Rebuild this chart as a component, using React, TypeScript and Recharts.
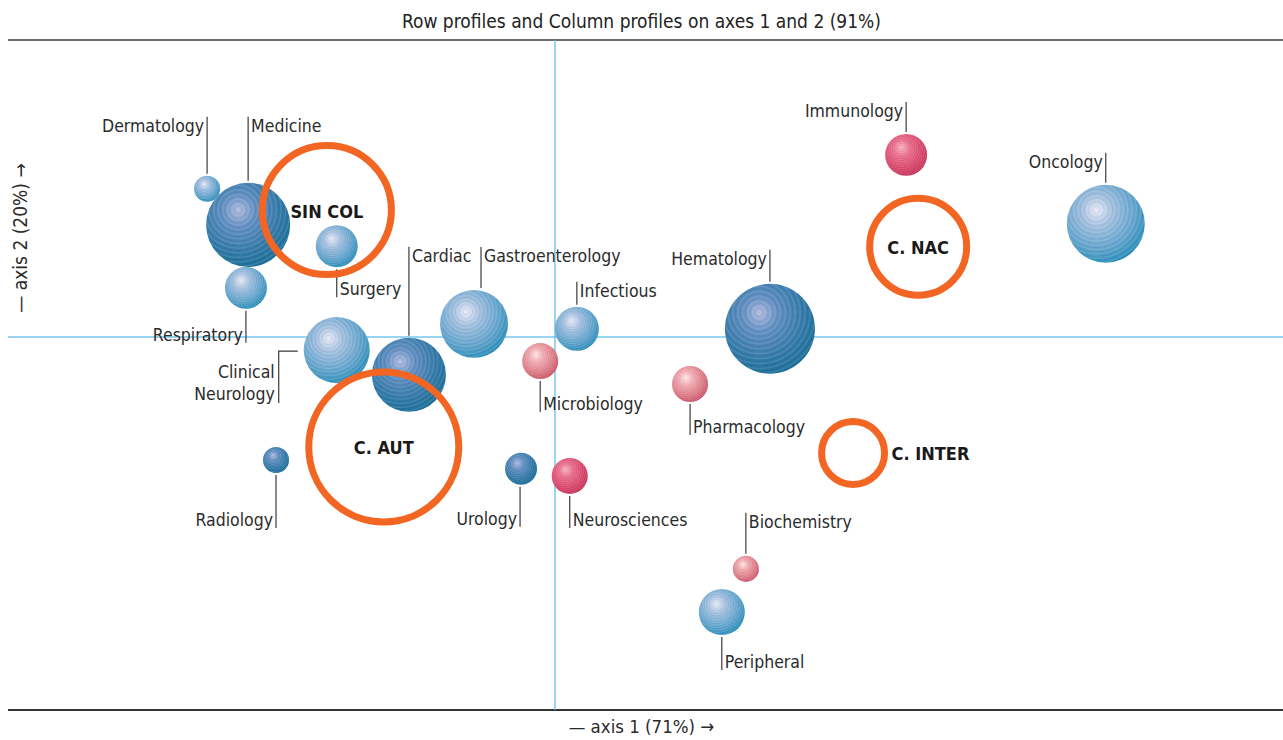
import React from 'react';
import { ScatterChart, Scatter, XAxis, YAxis, ZAxis, ReferenceLine } from 'recharts';

// row profiles (specialties) — coordinates on axes 1 and 2, mass drives bubble size
const rowNames = [
  'Dermatology', 'Medicine', 'Surgery', 'Respiratory', 'Clinical Neurology', 'Cardiac',
  'Gastroenterology', 'Infectious', 'Microbiology', 'Hematology', 'Pharmacology', 'Immunology',
  'Oncology', 'Radiology', 'Urology', 'Neurosciences', 'Biochemistry', 'Peripheral',
];
const rowAxis1 = [-0.636, -0.561, -0.399, -0.565, -0.399, -0.267, -0.148, 0.04, -0.027, 0.393, 0.247, 0.642, 1.007, -0.51, -0.062, 0.027, 0.349, 0.305];
const rowAxis2 = [0.271, 0.205, 0.166, 0.09, -0.024, -0.069, 0.024, 0.015, -0.044, 0.015, -0.086, 0.333, 0.207, -0.225, -0.241, -0.254, -0.424, -0.503];
const rowMass = [6.8, 70.6, 17.6, 17.6, 43.6, 54.8, 46.2, 19.4, 13, 81, 13, 17.6, 60.8, 6.8, 10.2, 13, 6.8, 21.2];
const rowKind = ['light', 'dark', 'light', 'light', 'light', 'dark', 'light', 'light', 'pink', 'dark', 'pink', 'red', 'light', 'dark', 'dark', 'red', 'pink', 'light'];

// column profiles
const colNames = ['SIN COL', 'C. NAC', 'C. AUT', 'C. INTER'];
const colAxis1 = [-0.417, 0.664, -0.313, 0.545];
const colAxis2 = [0.232, 0.165, -0.201, -0.212];
const colMass = [166.4, 94.1, 225, 39.7];

const X_DOMAIN: [number, number] = [-1, 1.331];
const Y_DOMAIN: [number, number] = [-0.682, 0.543];

const rowData = rowNames.map((name, i) => ({ name, x: rowAxis1[i], y: rowAxis2[i], z: rowMass[i], kind: rowKind[i] }));
const colData = colNames.map((name, i) => ({ name, x: colAxis1[i], y: colAxis2[i], z: colMass[i] }));

// where each label sits relative to its bubble
const labelLayout: Record<string, { dir: string; side: string; len: number; dx?: number }> = {
  Dermatology: { dir: 'up', side: 'L', len: 59 },
  Medicine: { dir: 'up', side: 'R', len: 66 },
  Surgery: { dir: 'down', side: 'R', len: 30 },
  Respiratory: { dir: 'down', side: 'L', len: 34 },
  'Clinical Neurology': { dir: 'elbow', side: 'L', len: 53 },
  Cardiac: { dir: 'up', side: 'R', len: 91 },
  Gastroenterology: { dir: 'up', side: 'R', len: 43, dx: 7 },
  Infectious: { dir: 'up', side: 'R', len: 25 },
  Microbiology: { dir: 'down', side: 'R', len: 33 },
  Hematology: { dir: 'up', side: 'L', len: 34 },
  Pharmacology: { dir: 'down', side: 'R', len: 33 },
  Immunology: { dir: 'up', side: 'L', len: 32 },
  Oncology: { dir: 'up', side: 'L', len: 32 },
  Radiology: { dir: 'down', side: 'L', len: 55 },
  Urology: { dir: 'down', side: 'L', len: 42, dx: -1 },
  Neurosciences: { dir: 'down', side: 'R', len: 34 },
  Biochemistry: { dir: 'up', side: 'R', len: 43 },
  Peripheral: { dir: 'down', side: 'R', len: 35 },
};

const FONT = "'DejaVu Sans Condensed', 'Roboto', sans-serif";
const LABEL_COLOR = '#2b2b2b';
const LEADER = '#3a3a3a';

const gradients: Record<string, string[]> = {
  light: ['#e8e9f6', '#a3bfdf', '#5ea2cb', '#1786b2'],
  dark: ['#b0bbe0', '#5f8dc0', '#2f77a6', '#146a92'],
  pink: ['#fde8e6', '#f2aab0', '#dc7a86', '#c4475f'],
  red: ['#f8b3c0', '#ea6d8b', '#d8466a', '#bf3154'],
};

function BubbleShape(props: any) {
  const { cx, cy, width, payload } = props;
  const r = width / 2;
  const lay = labelLayout[payload.name];
  const lineX = cx + (lay.dx || 0);
  let leader: React.ReactNode = null;
  let text: React.ReactNode = null;
  const anchor = lay.side === 'R' ? 'start' : 'end';
  const tx = lay.side === 'R' ? lineX + 3 : lineX - 3;
  const textStyle = { fontFamily: FONT, fontSize: 17.5, fill: LABEL_COLOR };
  if (lay.dir === 'up') {
    const y2 = cy - r - lay.len;
    leader = <line x1={lineX} x2={lineX} y1={cy - r - 2} y2={y2} stroke={LEADER} strokeWidth={1.2} />;
    text = <text x={tx} y={y2 + 9} textAnchor={anchor} dominantBaseline="central" style={textStyle}>{payload.name}</text>;
  } else if (lay.dir === 'down') {
    const y2 = cy + r + lay.len;
    leader = <line x1={lineX} x2={lineX} y1={cy + r + 2} y2={y2} stroke={LEADER} strokeWidth={1.2} />;
    text = <text x={tx} y={y2 - 8} textAnchor={anchor} dominantBaseline="central" style={textStyle}>{payload.name}</text>;
  } else {
    const ex = cx - r - 25;
    const parts = payload.name.split(' ');
    leader = (
      <polyline points={`${cx - r - 6},${cy + 1} ${ex},${cy + 1} ${ex},${cy + lay.len}`} fill="none" stroke={LEADER} strokeWidth={1.2} />
    );
    text = (
      <text x={ex - 4} y={cy + 22} textAnchor="end" dominantBaseline="central" style={textStyle}>
        <tspan x={ex - 4} dy={0}>{parts[0]}</tspan>
        <tspan x={ex - 4} dy={22}>{parts[1]}</tspan>
      </text>
    );
  }
  return (
    <g>
      <circle cx={cx} cy={cy} r={r} fill={`url(#grad-${payload.kind})`} />
      <circle cx={cx} cy={cy} r={r} fill="url(#ripple)" />
      {leader}
      {text}
    </g>
  );
}

function RingShape(props: any) {
  const { cx, cy, width, payload } = props;
  const r = width / 2;
  const right = payload.name === 'C. INTER';
  return (
    <g>
      <circle cx={cx} cy={cy} r={r} fill="none" stroke="#f26522" strokeWidth={7} />
      <text
        x={right ? cx + r + 7 : cx}
        y={cy + 1}
        textAnchor={right ? 'start' : 'middle'}
        dominantBaseline="central"
        style={{ fontFamily: FONT, fontSize: 18, fontWeight: 700, fill: '#1a1a1a' }}
      >
        {payload.name}
      </text>
    </g>
  );
}

export default function App() {
  return (
    <div style={{ position: 'absolute', left: 0, top: 0, width: 1283, height: 740, background: '#fff' }}>
      <div style={{ position: 'absolute', left: 0, top: 10, width: 1283, textAlign: 'center', fontFamily: FONT, fontSize: 19, color: '#222' }}>
        Row profiles and Column profiles on axes 1 and 2 (91%)
      </div>
      <div style={{ position: 'absolute', left: 0, top: 716, width: 1283, textAlign: 'center', fontFamily: FONT, fontSize: 18.5, color: '#2b2b2b' }}>
        — axis 1 (71%) →
      </div>
      <div
        style={{
          position: 'absolute', left: 20, top: 238, transform: 'translate(-50%, -50%) rotate(-90deg)',
          whiteSpace: 'nowrap', fontFamily: FONT, fontSize: 19, color: '#2b2b2b',
        }}
      >
        — axis 2 (20%) →
      </div>
      <ScatterChart width={1283} height={740} margin={{ top: 40, right: 0, bottom: 30, left: 8 }}>
        <defs>
          {Object.keys(gradients).map((k) => (
            <radialGradient key={k} id={`grad-${k}`} cx="0.42" cy="0.38" r="0.7" fx="0.38" fy="0.32">
              <stop offset="0" stopColor={gradients[k][0]} />
              <stop offset="0.28" stopColor={gradients[k][1]} />
              <stop offset="0.68" stopColor={gradients[k][2]} />
              <stop offset="1" stopColor={gradients[k][3]} />
            </radialGradient>
          ))}
          <radialGradient id="ripple" cx="0.38" cy="0.32" r="0.055" fx="0.38" fy="0.32" spreadMethod="repeat">
            <stop offset="0" stopColor="#ffffff" stopOpacity={0} />
            <stop offset="0.3" stopColor="#ffffff" stopOpacity={0.14} />
            <stop offset="0.6" stopColor="#ffffff" stopOpacity={0} />
            <stop offset="0.8" stopColor="#0a3550" stopOpacity={0.08} />
            <stop offset="1" stopColor="#ffffff" stopOpacity={0} />
          </radialGradient>
        </defs>
        <XAxis type="number" dataKey="x" domain={X_DOMAIN} hide allowDataOverflow />
        <YAxis type="number" dataKey="y" domain={Y_DOMAIN} hide allowDataOverflow />
        <ZAxis type="number" dataKey="z" domain={[0, 250]} range={[0, 19635]} />
        <ReferenceLine y={Y_DOMAIN[1]} stroke="#6b6b6b" strokeWidth={2} />
        <ReferenceLine y={Y_DOMAIN[0]} stroke="#333" strokeWidth={2} />
        <Scatter data={rowData} shape={BubbleShape} isAnimationActive={false} />
        <Scatter data={colData} shape={RingShape} isAnimationActive={false} />
        <ReferenceLine x={0} stroke="#5fbde6" strokeWidth={1.5} strokeOpacity={0.85} />
        <ReferenceLine y={0} stroke="#5fbde6" strokeWidth={1.5} strokeOpacity={0.85} />
      </ScatterChart>
    </div>
  );
}
